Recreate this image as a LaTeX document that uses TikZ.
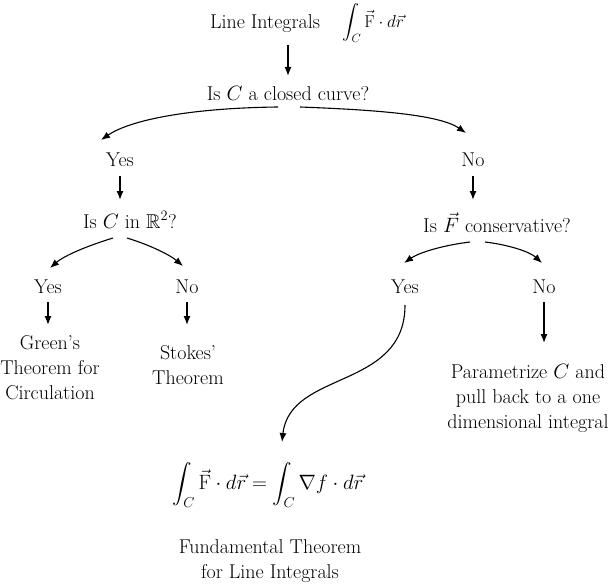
\documentclass[tikz,border=0pt]{standalone}
\usepackage{amsmath,amssymb}
\usetikzlibrary{arrows.meta}
\begin{document}
\begin{tikzpicture}[x=1pt,y=-1pt,
  txt/.style={inner sep=0pt,align=center,font=\fontsize{20}{25}\selectfont},
  mth/.style={inner sep=0pt,align=center,font=\fontsize{17}{20}\selectfont},
  mthb/.style={inner sep=0pt,align=center,font=\fontsize{19.5}{22}\selectfont},
  arr/.style={line width=1.3pt,-{Latex[length=9pt,width=7pt]}},
  crv/.style={line width=1.1pt,-{Latex[length=9pt,width=7pt]}}]
\useasboundingbox (0,0) rectangle (615,583);
\node[txt] (li) at (265,24) {Line Integrals};
\node[mth,anchor=west] (int) at (342,23) {$\displaystyle\int_C \vec{\mathrm{F}}\cdot d\vec{r}$};
\node[txt] (q1) at (288,93) {Is $C$ a closed curve?};
\node[txt] (y1) at (120,160) {Yes};
\node[txt] (n1) at (473,160) {No};
\node[txt] (q2) at (130,220) {Is $C$ in $\mathbb{R}^2$?};
\node[txt] (q3) at (497,223) {Is $\vec{F}$ conservative?};
\node[txt] (y2) at (48,287) {Yes};
\node[txt] (n2) at (187,287) {No};
\node[txt] (y3) at (405,287) {Yes};
\node[txt] (n3) at (544,287) {No};
\node[txt] (green) at (50,368) {Green's\\Theorem for\\Circulation};
\node[txt] (stokes) at (188,365) {Stokes'\\Theorem};
\node[txt] (param) at (528,398) {Parametrize $C$ and\\pull back to a one\\dimensional integral};
\node[mthb] (ftl) at (268,485) {$\displaystyle\int_C \vec{\mathrm{F}}\cdot d\vec{r} = \int_C \nabla f\cdot d\vec{r}$};
\node[txt] (ftn) at (270,561) {Fundamental Theorem\\for Line Integrals};
\coordinate (a0) at (288,45);
\coordinate (a1) at (288,76);
\draw[arr] (a0) -- (a1);
\coordinate (c1) at (278,107);
\coordinate (c2) at (300,107);
\draw[crv] (c1) .. controls (190,108) and (130,120) .. (101,140);
\draw[crv] (c2) .. controls (380,110) and (440,115) .. (466,133);
\coordinate (b1) at (120,176);
\coordinate (b2) at (120,200);
\coordinate (b3) at (473,176);
\coordinate (b4) at (473,200);
\draw[arr] (b1) -- (b2);
\draw[arr] (b3) -- (b4);
\coordinate (d1) at (113,238);
\coordinate (d2) at (127,238);
\draw[crv] (d1) .. controls (90,245) and (65,255) .. (50,268);
\draw[crv] (d2) .. controls (150,245) and (170,255) .. (183,266);
\coordinate (e1) at (470,242);
\coordinate (e2) at (485,242);
\draw[crv] (e1) .. controls (445,245) and (420,252) .. (404,263);
\draw[crv] (e2) .. controls (510,245) and (530,252) .. (542,263);
\coordinate (g1) at (48,302);
\coordinate (g2) at (48,325);
\coordinate (h1) at (187,302);
\coordinate (h2) at (187,325);
\coordinate (k1) at (544,302);
\coordinate (k2) at (544,343);
\draw[arr] (g1) -- (g2);
\draw[arr] (h1) -- (h2);
\draw[arr] (k1) -- (k2);
\coordinate (f1) at (405,305);
\draw[crv] (f1) .. controls (405,390) and (290,370) .. (282,442);
\end{tikzpicture}
\end{document}
